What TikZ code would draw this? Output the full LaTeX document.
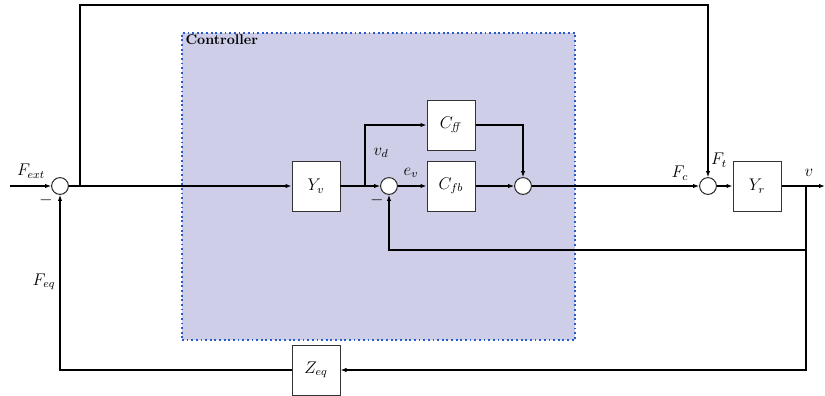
\documentclass[tikz,border=0pt]{standalone}
\usepackage{amsmath}
\usetikzlibrary{arrows.meta}
\definecolor{ctrlfill}{RGB}{206,206,232}
\definecolor{ctrlborder}{RGB}{40,90,200}

\begin{document}
\begin{tikzpicture}[x=0.025cm,y=-0.025cm,>={Latex[length=1.5mm,width=1.1mm]},
   every node/.style={font=\fontsize{11.5}{13}\selectfont},
   blk/.style={draw=black!80, fill=white, line width=0.7pt, minimum width=1.2cm, minimum height=1.25cm},
   sumc/.style={draw=black!85, fill=white, circle, line width=0.7pt, minimum size=0.42cm, inner sep=0pt},
   sig/.style={->, line width=0.8pt}]
   \useasboundingbox (0,0) rectangle (825,396);
   % controller region
   \node[draw=ctrlborder, fill=ctrlfill, dotted, line width=1.3pt, minimum width=9.825cm, minimum height=7.675cm, inner sep=0pt] (ctrl) at (378.5,186.5) {};
   \node[anchor=north west, font=\bfseries, inner sep=1pt] (ctrllabel) at ([xshift=2pt,yshift=-1pt]ctrl.north west) {Controller};
   % blocks and sums
   \node[sumc] (s1) at (60,186) {};
   \node[blk] (Yv) at (316,186) {$Y_v$};
   \node[sumc] (s2) at (389,186) {};
   \node[blk] (Cfb) at (451,186) {$C_{fb}$};
   \node[blk] (Cff) at (451,125) {$C_{\mathit{ff}}$};
   \node[sumc] (s3) at (523,186) {};
   \node[sumc] (s4) at (708,186) {};
   \node[blk] (Yr) at (757,186) {$Y_r$};
   \node[blk] (Zeq) at (316,370) {$Z_{eq}$};
   % points
   \coordinate (in) at (10,186);
   \coordinate (out) at (825,186);
   \coordinate (b1) at (80,186);
   \coordinate (t1) at (80,5);
   \coordinate (b2) at (365,186);
   \coordinate (b3) at (806,186);
   \coordinate (fb) at (389,250);
   % signals
   \draw[sig] (in) -- (s1);
   \draw[sig] (s1) -- (Yv);
   \draw[sig] (b1) -- (t1) -| (s4);
   \draw[sig] (Yv) -- (s2);
   \draw[sig] (b2) |- (Cff);
   \draw[sig] (s2) -- (Cfb);
   \draw[sig] (Cfb) -- (s3);
   \draw[sig] (Cff) -| (s3);
   \draw[sig] (s3) -- (s4);
   \draw[sig] (s4) -- (Yr);
   \draw[sig] (Yr) -- (out);
   \draw[sig] (b3) |- (fb) -- (s2);
   \draw[sig] (b3) |- (Zeq);
   \draw[sig] (Zeq) -| (s1);
   % labels
   \node (lFext) at (31,171) {$F_{ext}$};
   \node (lm1) at (46,200) {$-$};
   \node (lFeq) at (44,282) {$F_{eq}$};
   \node (lvd) at (381,153) {$v_d$};
   \node (lev) at (411,173) {$e_v$};
   \node (lm2) at (377,200) {$-$};
   \node (lFc) at (680,173) {$F_c$};
   \node (lFt) at (719,160) {$F_t$};
   \node (lv) at (809,173) {$v$};
\end{tikzpicture}
\end{document}
